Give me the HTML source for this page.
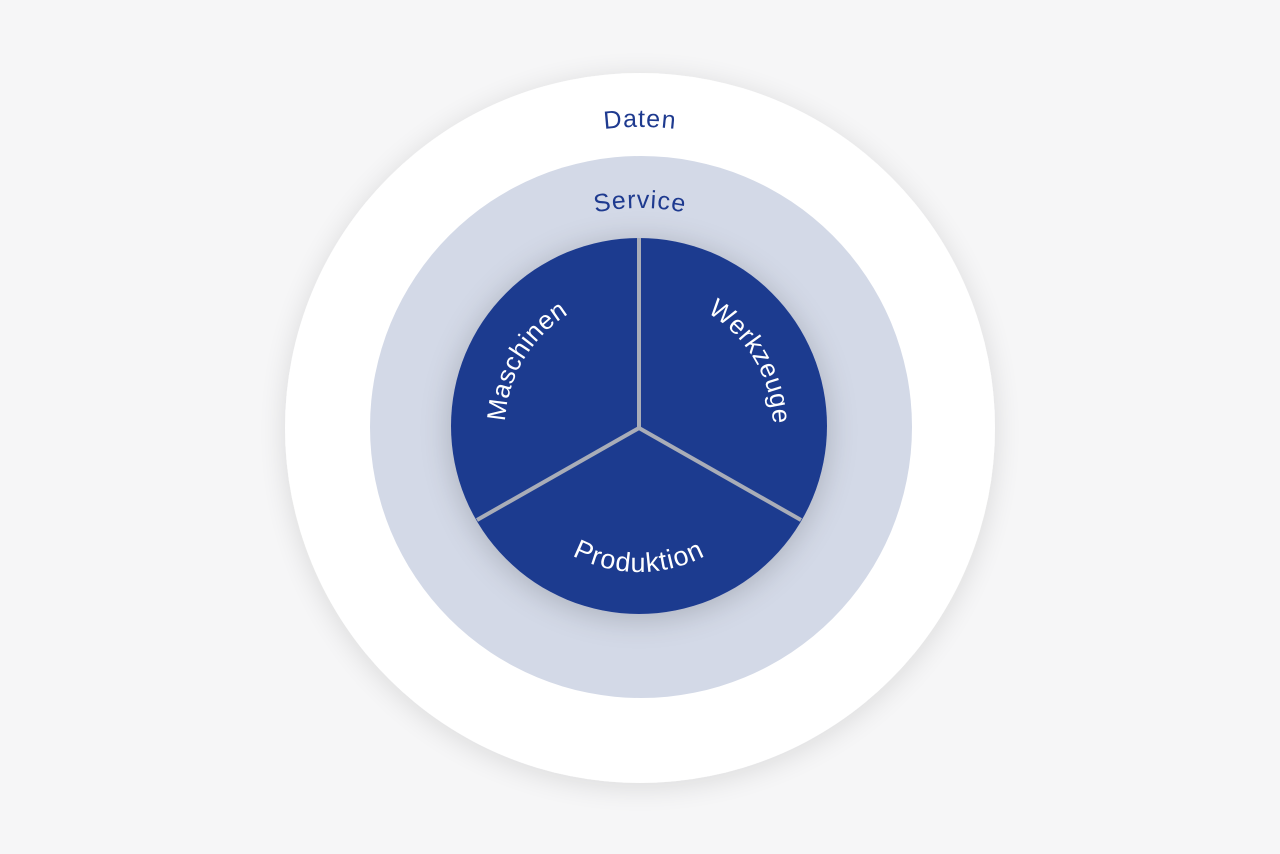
<!DOCTYPE html>
<html><head><meta charset="utf-8"><style>
html,body{margin:0;padding:0;background:#f6f6f7;}
svg{display:block}
text{font-family:"Liberation Sans","DejaVu Sans",sans-serif;}
</style></head><body>
<svg width="1280" height="854" viewBox="0 0 1280 854" xmlns="http://www.w3.org/2000/svg">
<defs>
<filter id="sh" x="-30%" y="-30%" width="160%" height="160%">
<feGaussianBlur in="SourceAlpha" stdDeviation="14"/>
<feOffset dy="4"/>
<feComponentTransfer><feFuncA type="linear" slope="0.12"/></feComponentTransfer>
<feMerge><feMergeNode/><feMergeNode in="SourceGraphic"/></feMerge>
</filter>
<filter id="sh2" x="-30%" y="-30%" width="160%" height="160%">
<feGaussianBlur in="SourceAlpha" stdDeviation="16"/>
<feOffset dy="4"/>
<feComponentTransfer><feFuncA type="linear" slope="0.2"/></feComponentTransfer>
<feMerge><feMergeNode/><feMergeNode in="SourceGraphic"/></feMerge>
</filter>
<path id="pD" d="M339,428 A301,301 0 1 1 941,428 A301,301 0 1 1 339,428"/>
<path id="pS" d="M420,428 A220,220 0 1 1 860,428 A220,220 0 1 1 420,428"/>
<path id="pIn" d="M505,428 A134,134 0 1 1 773,428 A134,134 0 1 1 505,428"/>
<path id="pB" d="M495,428 A144,144 0 1 0 783,428 A144,144 0 1 0 495,428"/>
</defs>
<circle cx="640" cy="428" r="355" fill="#ffffff" filter="url(#sh)"/>
<circle cx="641" cy="427" r="271" fill="#d3d9e7"/>
<circle cx="639" cy="426" r="188" fill="#1e3a8f" filter="url(#sh2)"/>
<g stroke="#a9adb8" stroke-width="4" stroke-linecap="butt">
<line x1="639" y1="428" x2="639" y2="238"/>
<line x1="639" y1="428" x2="477" y2="520"/>
<line x1="639" y1="428" x2="801" y2="520"/>
</g>
<g font-size="25" fill="#1e3a8f" text-anchor="middle" letter-spacing="1">
<text><textPath href="#pD" startOffset="25%">Daten</textPath></text>
<text><textPath href="#pS" startOffset="25%">Service</textPath></text>
</g>
<g font-size="26" fill="#ffffff" text-anchor="middle" letter-spacing="0.5">
<text><textPath href="#pIn" startOffset="8.5%">Maschinen</textPath></text>
<text><textPath href="#pIn" startOffset="41.5%">Werkzeuge</textPath></text>
<text letter-spacing="1" font-size="27"><textPath href="#pB" startOffset="25%">Produktion</textPath></text>
</g>
</svg>
</body></html>
